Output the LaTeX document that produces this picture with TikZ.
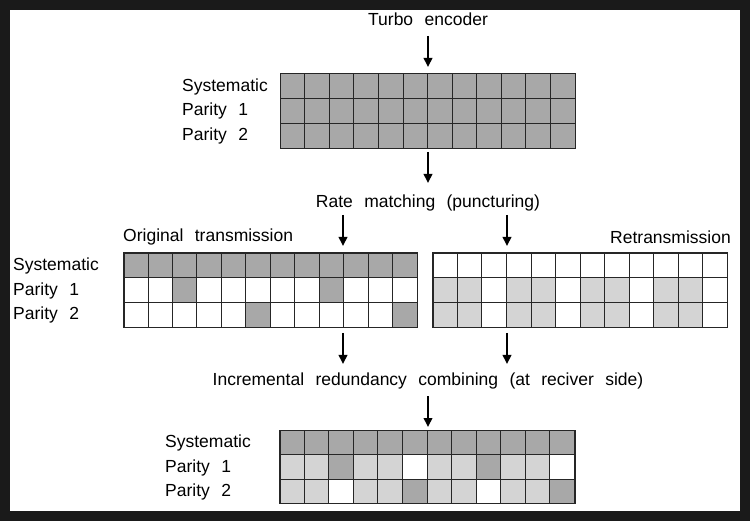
\documentclass[tikz,border=0pt]{standalone}
\usepackage{fontspec}
\setmainfont{Liberation Sans}
\usetikzlibrary{arrows.meta}
\definecolor{frame}{HTML}{1A1A1A}
\definecolor{colD}{HTML}{A8A8A8}
\definecolor{colL}{HTML}{D4D4D4}
\definecolor{colW}{HTML}{FFFFFF}
\newcommand\lblfont{\fontsize{17.5}{20}\selectfont\spaceskip 11.4pt plus 1pt minus 1pt\relax}
\tikzset{
  lbl/.style={inner sep=0pt, font=\lblfont},
  flow/.style={line width=2pt, -{Triangle[length=9pt,width=8.5pt]}},
  gridline/.style={draw=black!85, line width=0.8pt},
}
% #1 x0, #2 y0, #3 cell width, #4 cell height, #5 row1, #6 row2, #7 row3
\newcommand\cellgrid[7]{%
  \foreach \r/\row in {0/{#5},1/{#6},2/{#7}}{%
    \foreach \c [count=\i from 0] in \row {%
      \path[fill=col\c, gridline] ({#1+\i*#3},{#2+\r*#4}) rectangle ++(#3,#4);
    }%
  }%
}
\begin{document}
\begin{tikzpicture}[x=1pt,y=-1pt]
\useasboundingbox (0,0) rectangle (750,521);
\fill[frame] (0,0) rectangle (750,521);
\fill[white] (10,10) rectangle (740,511);

% texts
\node[lbl] (turbo) at (428,19) {Turbo encoder};
\node[lbl] (rate) at (428,203) {Rate matching (puncturing)};
\node[lbl,anchor=west] (orig) at (123,237) {Original transmission};
\node[lbl,anchor=east] (retx) at (731,237) {Retransmission};
\node[lbl] (ir) at (428,381) {Incremental redundancy combining (at reciver side)};

\node[lbl,anchor=west] (s1) at (182,87) {Systematic};
\node[lbl,anchor=west] (p11) at (182,111) {Parity 1};
\node[lbl,anchor=west] (p21) at (182,136) {Parity 2};

\node[lbl,anchor=west] (s2) at (13,266) {Systematic};
\node[lbl,anchor=west] (p12) at (13,291) {Parity 1};
\node[lbl,anchor=west] (p22) at (13,315) {Parity 2};

\node[lbl,anchor=west] (s3) at (165,443) {Systematic};
\node[lbl,anchor=west] (p13) at (165,468) {Parity 1};
\node[lbl,anchor=west] (p23) at (165,492) {Parity 2};

% grids
\cellgrid{280}{73}{24.58}{25}{D,D,D,D,D,D,D,D,D,D,D,D}{D,D,D,D,D,D,D,D,D,D,D,D}{D,D,D,D,D,D,D,D,D,D,D,D}
\node[inner sep=0pt, minimum width=295, minimum height=75, anchor=north west, gridline] (g1) at (280,73) {};

\cellgrid{123.5}{252.7}{24.46}{24.9}{D,D,D,D,D,D,D,D,D,D,D,D}{W,W,D,W,W,W,W,W,D,W,W,W}{W,W,W,W,W,D,W,W,W,W,W,D}
\node[inner sep=0pt, minimum width=293.5, minimum height=74.7, anchor=north west, gridline] (g2) at (123.5,252.7) {};

\cellgrid{432.7}{252.7}{24.55}{24.9}{W,W,W,W,W,W,W,W,W,W,W,W}{L,L,W,L,L,W,L,L,W,L,L,W}{L,L,W,L,L,W,L,L,W,L,L,W}
\node[inner sep=0pt, minimum width=294.6, minimum height=74.7, anchor=north west, gridline] (g3) at (432.7,252.7) {};

\cellgrid{279.5}{430}{24.58}{24.45}{D,D,D,D,D,D,D,D,D,D,D,D}{L,L,D,L,L,W,L,L,D,L,L,W}{L,L,W,L,L,D,L,L,W,L,L,D}
\node[inner sep=0pt, minimum width=295, minimum height=73.35, anchor=north west, gridline] (g4) at (279.5,430) {};

% arrows
\coordinate (a1s) at (428,36);  \coordinate (a1e) at (428,67);
\coordinate (a2s) at (428,152); \coordinate (a2e) at (428,183);
\coordinate (a3s) at (343,215); \coordinate (a3e) at (343,246);
\coordinate (a4s) at (507,215); \coordinate (a4e) at (507,246);
\coordinate (a5s) at (343,333); \coordinate (a5e) at (343,364);
\coordinate (a6s) at (507,333); \coordinate (a6e) at (507,364);
\coordinate (a7s) at (428,396); \coordinate (a7e) at (428,427);
\foreach \k in {1,...,7}{\draw[flow] (a\k s) -- (a\k e);}
\end{tikzpicture}
\end{document}
